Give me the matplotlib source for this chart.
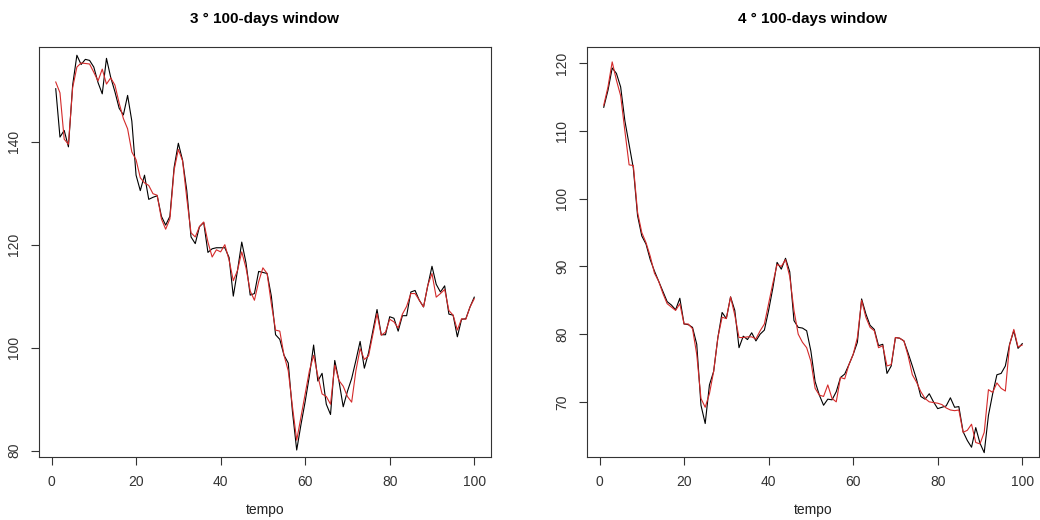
import numpy as np
import matplotlib.pyplot as plt

plt.rcParams['font.family'] = ['Liberation Sans', 'DejaVu Sans']

tempo = np.arange(1, 101)

# window 3: observed (black) and fitted (red)
obs3 = [150.3, 140.9, 142.2, 139.0, 151.0, 156.8, 155.0, 156.0, 155.8, 154.5,
        151.5, 149.3, 156.2, 152.5, 149.7, 146.5, 145.2, 149.0, 144.0, 133.5,
        130.5, 133.5, 128.8, 129.2, 129.5, 125.5, 123.8, 125.5, 135.0, 139.7,
        136.4, 130.5, 121.5, 120.2, 123.5, 124.3, 118.5, 119.2, 119.4, 119.4,
        119.4, 117.5, 110.0, 115.0, 120.5, 116.5, 110.2, 110.5, 114.8, 114.6,
        114.4, 110.0, 102.5, 101.6, 98.5, 97.0, 87.5, 80.1, 85.0, 89.5,
        94.5, 100.5, 93.5, 95.0, 89.0, 87.0, 97.5, 93.5, 88.5, 91.5,
        94.0, 97.5, 101.2, 96.0, 99.0, 103.2, 107.4, 102.5, 102.5, 106.0,
        105.7, 103.2, 106.2, 106.2, 110.8, 111.1, 109.2, 107.9, 112.0, 115.8,
        112.3, 110.8, 112.0, 106.5, 106.3, 102.1, 105.5, 105.6, 107.9, 109.8]
fit3 = [151.6, 149.5, 140.5, 139.5, 150.5, 154.5, 155.3, 155.2, 155.1, 153.5,
        151.8, 154.1, 151.2, 152.4, 151.0, 147.5, 144.5, 142.5, 138.0, 136.5,
        133.0, 132.0, 131.5, 129.9, 129.6, 125.0, 123.0, 125.0, 134.5, 138.5,
        136.3, 129.0, 122.3, 121.5, 123.5, 124.4, 120.5, 117.6, 119.0, 118.6,
        120.0, 117.0, 113.0, 115.0, 118.6, 115.5, 111.0, 109.2, 112.8, 115.5,
        114.4, 108.5, 103.4, 103.2, 98.5, 95.5, 88.5, 82.0, 86.5, 91.0,
        95.5, 98.5, 94.5, 91.0, 90.5, 89.0, 96.6, 93.6, 92.5, 90.5,
        89.4, 95.5, 99.8, 97.7, 98.4, 102.5, 106.6, 102.4, 103.0, 105.5,
        105.0, 103.8, 106.5, 108.0, 110.5, 110.5, 109.2, 107.9, 112.1, 114.4,
        109.8, 110.5, 111.3, 107.2, 106.3, 103.4, 105.6, 105.5, 107.9, 109.5]

# window 4
obs4 = [113.5, 116.0, 119.3, 118.5, 116.5, 111.5, 108.0, 104.5, 97.5, 94.5,
        93.3, 91.0, 89.3, 87.8, 86.3, 84.8, 84.3, 83.6, 85.3, 81.5,
        81.4, 81.0, 78.5, 69.5, 66.8, 72.5, 74.5, 79.5, 83.2, 82.3,
        85.5, 83.5, 78.0, 79.7, 79.2, 80.2, 79.0, 80.0, 80.6, 83.5,
        86.8, 90.6, 89.6, 91.2, 89.2, 82.0, 81.0, 80.9, 80.5, 77.5,
        73.0, 71.0, 69.5, 70.4, 70.3, 71.5, 73.6, 74.1, 75.5, 77.0,
        78.8, 85.2, 83.0, 81.3, 80.7, 78.3, 78.5, 74.2, 75.3, 79.5,
        79.4, 79.0, 77.2, 75.3, 73.3, 70.8, 70.4, 71.2, 70.0, 69.0,
        69.2, 69.4, 70.6, 69.2, 69.3, 65.6, 64.3, 63.3, 66.2, 63.9,
        62.5, 68.0, 71.2, 74.0, 74.2, 75.3, 78.5, 80.5, 77.9, 78.6]
fit4 = [113.8, 116.5, 120.2, 117.5, 115.2, 110.0, 105.0, 104.9, 98.0, 95.0,
        93.5, 91.5, 89.0, 87.8, 86.0, 84.5, 84.0, 83.5, 84.5, 81.5,
        81.5, 80.8, 77.0, 70.5, 69.2, 71.2, 74.5, 79.5, 82.5, 82.3,
        85.5, 82.8, 79.5, 79.5, 79.6, 79.6, 79.3, 80.5, 81.5, 84.5,
        87.5, 90.3, 90.0, 91.0, 88.5, 83.5, 80.0, 78.8, 78.0, 76.0,
        72.0, 71.0, 70.8, 72.5, 70.5, 70.0, 73.6, 73.4, 75.5, 77.0,
        79.5, 85.0, 82.5, 81.0, 80.5, 78.0, 78.3, 75.3, 75.5, 79.5,
        79.4, 79.0, 76.8, 74.0, 72.9, 71.5, 70.5, 70.0, 69.9, 69.8,
        69.6, 69.1, 68.8, 68.7, 68.8, 65.5, 65.8, 66.7, 64.0, 63.8,
        65.5, 71.8, 71.4, 72.8, 72.0, 71.6, 78.4, 80.7, 78.1, 78.4]

titles = ['3 \u00b0 100-days window', '4 \u00b0 100-days window']
ylims = [(78.8, 158.4), (61.9, 122.4)]
yticks = [[80, 100, 120, 140], [70, 80, 90, 100, 110, 120]]

fig = plt.figure(figsize=(10.4, 5.2), dpi=100)
ax1 = fig.add_axes([39/1040, 0.1217, 452/1040, 0.7879])
ax2 = fig.add_axes([587/1040, 0.1217, 452/1040, 0.7879])

for ax, obs, fit, title, yl, yt in zip([ax1, ax2], [obs3, obs4], [fit3, fit4],
                                       titles, ylims, yticks):
    ax.plot(tempo, obs, color='black', lw=0.8)
    ax.plot(tempo, fit, color='#d42a2a', lw=0.8)
    ax.set_xlim(-2.96, 103.96)
    ax.set_ylim(*yl)
    ax.set_xticks([0, 20, 40, 60, 80, 100])
    ax.set_yticks(yt)
    ax.set_yticklabels([str(v) for v in yt], rotation=90, va='center')
    ax.tick_params(direction='out', length=6, width=0.8, colors='#333333',
                   labelsize=10, pad=7)
    ax.set_xlabel('tempo', fontsize=10, labelpad=10, color='#222222')
    ax.set_title(title, fontsize=11, fontweight='bold', pad=17)
    for s in ax.spines.values():
        s.set_linewidth(0.8)
        s.set_color('#333333')

fig.savefig('out.png', dpi=100)
